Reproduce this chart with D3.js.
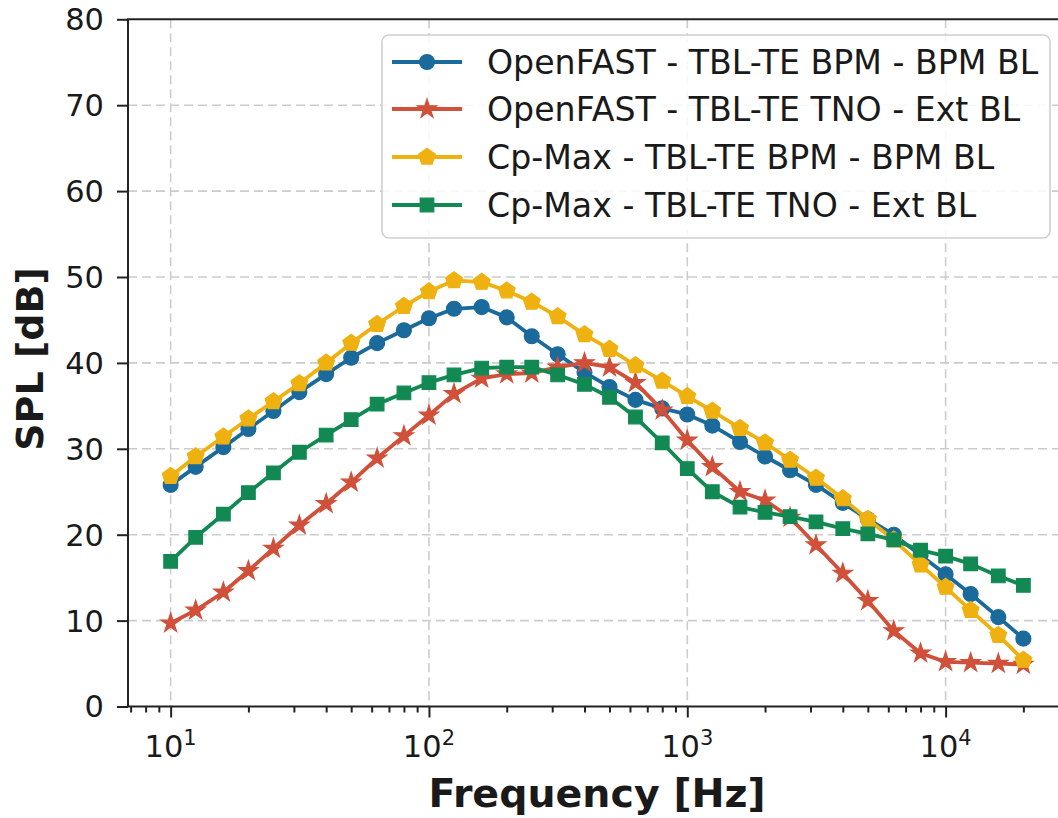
<!DOCTYPE html>
<html><head><meta charset="utf-8">
<script src="https://cdn.jsdelivr.net/npm/d3@7"></script>
<style>body{margin:0;background:#fff;} text{font-family:"DejaVu Sans",sans-serif;fill:#1a1a1a;}</style>
</head><body><svg id="c" width="1058" height="818"></svg>
<script>
const freqs = [10,12.5,16,20,25,31.5,40,50,63,80,100,125,160,200,250,315,400,500,630,800,1000,1250,1600,2000,2500,3150,4000,5000,6300,8000,10000,12500,16000,20000];
const ofBpm = [25.8,27.9,30.2,32.3,34.4,36.6,38.7,40.6,42.3,43.8,45.2,46.3,46.5,45.3,43.1,41.0,38.9,37.2,35.7,34.7,34.0,32.7,30.8,29.1,27.5,25.8,23.7,21.8,20.0,17.6,15.4,13.1,10.4,7.9];
const ofTno = [9.7,11.2,13.3,15.8,18.4,21.1,23.6,26.1,28.9,31.5,33.9,36.4,38.2,38.7,38.8,39.5,40.0,39.5,37.7,34.5,31.0,27.9,25.0,24.0,22.0,18.8,15.5,12.3,8.8,6.2,5.2,5.1,5.0,4.9];
const cpBpm = [26.8,29.1,31.4,33.5,35.5,37.6,40.0,42.3,44.5,46.6,48.3,49.6,49.4,48.4,47.1,45.4,43.3,41.6,39.7,37.9,36.1,34.4,32.4,30.7,28.7,26.6,24.2,21.8,19.4,16.5,13.9,11.2,8.3,5.4];
const cpTno = [16.9,19.7,22.4,24.9,27.2,29.6,31.6,33.4,35.2,36.5,37.7,38.6,39.4,39.5,39.5,38.6,37.5,36.0,33.7,30.7,27.7,25.0,23.2,22.6,22.1,21.5,20.7,20.1,19.4,18.2,17.5,16.6,15.2,14.1];
const seriesNames = ["OpenFAST - TBL-TE BPM - BPM BL","OpenFAST - TBL-TE TNO - Ext BL","Cp-Max - TBL-TE BPM - BPM BL","Cp-Max - TBL-TE TNO - Ext BL"];
const seriesColors = ["#1b6a9c","#d0503a","#efb110","#128953"];
const seriesMarkers = ["circle","star","pentagon","square"];
const yTicks = [0,10,20,30,40,50,60,70,80];
const xMajor = [10,100,1000,10000];
const xMajorExp = ["1","2","3","4"];
const xLabel = "Frequency [Hz]";
const yLabel = "SPL [dB]";

const series = [ofBpm, ofTno, cpBpm, cpTno];
const svg = d3.select("#c");
const L = 128, R = 1066, T = 19.3, B = 706.5;
const lo = Math.log10(d3.min(freqs)), hi = Math.log10(d3.max(freqs)), pad = 0.05*(hi-lo);
const x = d3.scaleLog().domain([10**(lo-pad), 10**(hi+pad)]).range([L, R]);
const y = d3.scaleLinear().domain([0, 80]).range([B, T]);
const axisColor = "#222";

// grid
const grid = svg.append("g").attr("stroke","#cccccc").attr("stroke-width",1.6).attr("stroke-dasharray","9,5");
xMajor.forEach(v => grid.append("line").attr("x1",x(v)).attr("x2",x(v)).attr("y1",T).attr("y2",B));
yTicks.slice(1,-1).forEach(v => grid.append("line").attr("x1",L).attr("x2",R).attr("y1",y(v)).attr("y2",y(v)));

// axes
const xAxis = d3.axisBottom(x).tickValues(xMajor).tickSize(11).tickFormat("");
const minor = [];
for (let e = 0; e <= 4; e++) for (let m = 2; m <= 9; m++) { const v = m*10**e; if (v >= x.domain()[0] && v <= x.domain()[1]) minor.push(v); }
const gx = svg.append("g").attr("transform",`translate(0,${B})`).call(xAxis);
const gxm = svg.append("g").attr("transform",`translate(0,${B})`).call(d3.axisBottom(x).tickValues(minor).tickSize(6).tickFormat(""));
const gy = svg.append("g").attr("transform",`translate(${L},0)`).call(d3.axisLeft(y).tickValues(yTicks).tickSize(11).tickFormat(""));
[gx,gxm,gy].forEach(g => { g.select(".domain").remove(); g.selectAll("line").attr("stroke",axisColor).attr("stroke-width",2); });

// tick labels
yTicks.forEach(v => svg.append("text").attr("x",104).attr("y",y(v)).attr("dy","0.36em").attr("text-anchor","end").attr("font-size",30.5).text(v));
xMajor.forEach((v,i) => {
  const t = svg.append("text").attr("x",x(v)).attr("y",757).attr("text-anchor","middle").attr("font-size",30.5);
  t.append("tspan").text("10");
  t.append("tspan").attr("dy",-12).attr("font-size",21).text(xMajorExp[i]);
});

// spines
svg.append("line").attr("x1",L).attr("x2",L).attr("y1",T).attr("y2",B).attr("stroke",axisColor).attr("stroke-width",2);
svg.append("line").attr("x1",L-1).attr("x2",R).attr("y1",B).attr("y2",B).attr("stroke",axisColor).attr("stroke-width",2);
svg.append("line").attr("x1",L-1).attr("x2",R).attr("y1",T).attr("y2",T).attr("stroke",axisColor).attr("stroke-width",2);

// markers
function pentagonPath(r){ const p=[]; for(let k=0;k<5;k++){const a=-Math.PI/2+k*2*Math.PI/5; p.push([r*Math.cos(a), r*Math.sin(a)]);} return "M"+p.map(d=>d.join(",")).join("L")+"Z"; }
function markerPath(kind){
  if (kind==="circle") return d3.symbol(d3.symbolCircle, 175)();
  if (kind==="star") return d3.symbol(d3.symbolStar, 115)();
  if (kind==="square") return d3.symbol(d3.symbolSquare, 185)();
  return pentagonPath(8.8);
}

const line = d3.line().x((d,i)=>x(freqs[i])).y(d=>y(d));
series.forEach((s,k) => {
  const g = svg.append("g");
  g.append("path").attr("d",line(s)).attr("fill","none").attr("stroke",seriesColors[k]).attr("stroke-width",3.8).attr("stroke-linejoin","round");
  g.selectAll("path.m").data(s).enter().append("path").attr("class","m")
    .attr("d",markerPath(seriesMarkers[k])).attr("transform",(d,i)=>`translate(${x(freqs[i])},${y(d)})`)
    .attr("fill",seriesColors[k]).attr("stroke",seriesColors[k]).attr("stroke-width",1.2);
});

// axis titles
svg.append("text").attr("x",(L+R)/2).attr("y",807).attr("text-anchor","middle").attr("font-size",39.5).attr("font-weight","bold").text(xLabel);
svg.append("text").attr("transform","translate(43,359) rotate(-90)").attr("text-anchor","middle").attr("font-size",38).attr("font-weight","bold").text(yLabel);

// legend
const lg = svg.append("g");
lg.append("rect").attr("x",382).attr("y",35).attr("width",668).attr("height",203).attr("rx",7)
  .attr("fill","#fff").attr("fill-opacity",0.85).attr("stroke","#d0d0d0").attr("stroke-width",1.6);
const rowY = [62,109,157,205];
seriesNames.forEach((n,k) => {
  const yy = rowY[k];
  lg.append("line").attr("x1",392).attr("x2",462).attr("y1",yy).attr("y2",yy).attr("stroke",seriesColors[k]).attr("stroke-width",3.8);
  lg.append("path").attr("d",markerPath(seriesMarkers[k])).attr("transform",`translate(427,${yy})`).attr("fill",seriesColors[k]).attr("stroke",seriesColors[k]).attr("stroke-width",1.2);
  lg.append("text").attr("x",487).attr("y",yy).attr("dy","0.36em").attr("font-size",33.2).text(n);
});
</script></body></html>
